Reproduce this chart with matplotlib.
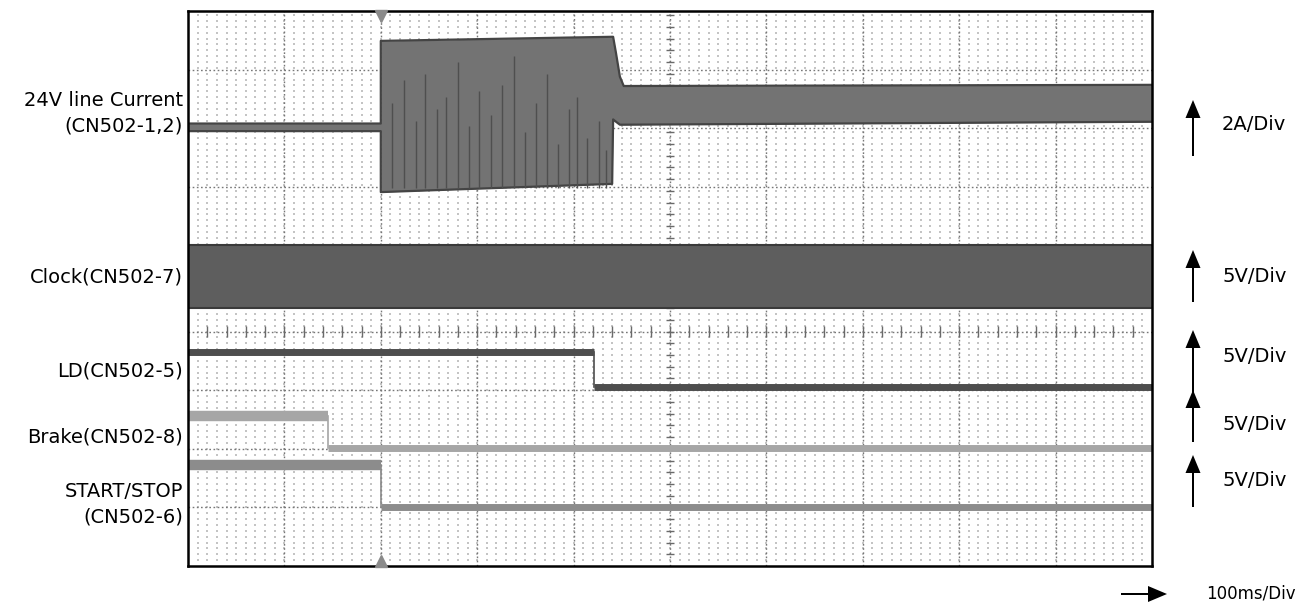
import matplotlib
matplotlib.use("Agg")
import matplotlib.pyplot as plt
import numpy as np

# ---------------- data (time in ms, levels in screen divisions from bottom) ----
time_range = [0, 1000]
screen_top = 9.47
trigger_ms = 200

# 24V line current envelope (min / max)
cur_t     = [0,    200,  200,  440,  441,  444,  448,  452,  1000]
cur_low   = [7.42, 7.42, 6.38, 6.52, 7.62, 7.58, 7.53, 7.53, 7.58]
cur_high  = [7.55, 7.55, 8.96, 9.03, 9.03, 8.75, 8.35, 8.19, 8.21]
# darker streaks inside the start-up burst (ms, top level in div)
spike_ms  = [212, 224, 236, 246, 258, 268, 280, 292, 302, 314, 326, 338,
             350, 361, 372, 384, 395, 404, 414, 426, 434]
spike_top = [7.9, 8.3, 7.6, 8.4, 7.8, 8.0, 8.6, 7.5, 8.1, 7.7, 8.2, 8.7,
             7.4, 7.9, 8.4, 7.2, 7.8, 8.0, 7.3, 7.6, 7.1]

# Clock band
clk_low, clk_high = 4.40, 5.48

# LD, Brake, START/STOP (high -> low steps)
ld_t     = [0, 421, 421, 1000]
ld_v     = [3.65, 3.65, 3.05, 3.05]
brake_t  = [0, 145, 145, 1000]
brake_v  = [2.56, 2.56, 2.01, 2.01]
start_t  = [0, 200, 200, 1000]
start_v  = [1.72, 1.72, 1.01, 1.01]

left_labels  = ["24V line Current\n(CN502-1,2)", "Clock(CN502-7)", "LD(CN502-5)",
                "Brake(CN502-8)", "START/STOP\n(CN502-6)"]
left_label_y = [113, 277, 371, 437, 504]       # pixel rows
right_labels = ["2A/Div", "5V/Div", "5V/Div", "5V/Div", "5V/Div"]
right_label_y = [125, 277, 357, 424, 481]
arrow_tip_y   = [100, 250, 330, 390, 455]
arrow_end_y   = [156, 302, 393, 442, 507]
time_label = "100ms/Div"

# ---------------- figure ----------------------------------------------------
W, H = 1300, 613
fig = plt.figure(figsize=(W / 100, H / 100), dpi=100)
fig.patch.set_facecolor("white")
ax = fig.add_axes([188 / W, 1 - 566 / H, (1152 - 188) / W, (566 - 11) / H])
ax.set_xlim(*time_range)
ax.set_ylim(0, screen_top)
ax.set_xticks([]); ax.set_yticks([])
for s in ax.spines.values():
    s.set_linewidth(1.8); s.set_color("black"); s.set_zorder(10)

# fine dot texture
gx, gy = np.meshgrid(np.arange(10, 1000, 10), np.arange(0.1, screen_top, 0.1))
ax.scatter(gx.ravel(), gy.ravel(), s=0.6, c="#c4c4c4", marker="s",
           linewidths=0, zorder=0)

# graticule
grid_kw = dict(color="#777777", lw=1.0, ls=(0, (1.2, 1.8)), zorder=1)
for xv in range(100, 1000, 100):
    ax.axvline(xv, **grid_kw)
for yv in [1, 2, 3, 4]:
    ax.axhline(yv, **grid_kw)
for k in [1, 2, 3, 4]:
    ax.axhline(screen_top - k, **grid_kw)
# centre tick marks
ticks_y = np.arange(0.2, screen_top, 0.2)
ax.hlines(ticks_y, 496, 504, color="#6a6a6a", lw=1.0, zorder=1)
ticks_x = np.arange(20, 1000, 20)
ax.vlines(ticks_x, 3.91, 4.09, color="#6a6a6a", lw=1.0, zorder=1)

# current channel
ax.fill_between(cur_t, cur_low, cur_high, color="#737373", lw=0, zorder=3)
ax.plot(cur_t, cur_high, color="#444444", lw=1.6, zorder=4)
ax.plot(cur_t, cur_low, color="#444444", lw=1.6, zorder=4)
ax.vlines(spike_ms, [6.45] * len(spike_ms), spike_top, color="#4f4f4f",
          lw=1.0, zorder=4)

# clock
ax.fill_between(time_range, [clk_low] * 2, [clk_high] * 2, color="#5e5e5e",
                lw=0, zorder=3)
ax.plot(time_range, [clk_high] * 2, color="#3a3a3a", lw=1.5, zorder=4)
ax.plot(time_range, [clk_low] * 2, color="#3a3a3a", lw=1.5, zorder=4)

# LD
ax.plot(ld_t[:2], ld_v[:2], color="#4e4e4e", lw=5, solid_capstyle="butt", zorder=4)
ax.plot(ld_t[2:], ld_v[2:], color="#4e4e4e", lw=5, solid_capstyle="butt", zorder=4)
ax.plot(ld_t[1:3], ld_v[1:3], color="#4e4e4e", lw=1.2, zorder=4)
# Brake
ax.plot(brake_t[:2], brake_v[:2], color="#a6a6a6", lw=7.5, solid_capstyle="butt", zorder=4)
ax.plot(brake_t[2:], brake_v[2:], color="#a6a6a6", lw=5, solid_capstyle="butt", zorder=4)
ax.plot(brake_t[1:3], brake_v[1:3], color="#a6a6a6", lw=1.2, zorder=4)
# START/STOP
ax.plot(start_t[:2], start_v[:2], color="#8c8c8c", lw=7.5, solid_capstyle="butt", zorder=4)
ax.plot(start_t[2:], start_v[2:], color="#8c8c8c", lw=5, solid_capstyle="butt", zorder=4)
ax.plot(start_t[1:3], start_v[1:3], color="#8c8c8c", lw=1.2, zorder=4)

# trigger markers
ax.plot([trigger_ms], [screen_top - 0.08], marker="v", ms=9, color="#8a8a8a",
        clip_on=False, zorder=11)
ax.plot([trigger_ms], [0.08], marker="^", ms=9, color="#8a8a8a",
        clip_on=False, zorder=11)

# ---------------- text ------------------------------------------------------
font = dict(family="DejaVu Sans", fontsize=14, color="black")
for txt, yp in zip(left_labels, left_label_y):
    fig.text(183 / W, 1 - yp / H, txt, ha="right", va="center",
             linespacing=1.45, **font)

for txt, yt, ytip, yend in zip(right_labels, right_label_y, arrow_tip_y, arrow_end_y):
    fig.text(1222 / W, 1 - yt / H, txt, ha="left", va="center", **font)
    fig.add_artist(matplotlib.patches.FancyArrow(
        1193 / W, 1 - yend / H, 0, (yend - ytip) / H, width=2.0 / W,
        head_width=15 / W, head_length=18 / H, length_includes_head=True,
        color="black", lw=0, transform=fig.transFigure))

fig.add_artist(matplotlib.patches.FancyArrow(
    1121 / W, 1 - 594 / H, 46 / W, 0, width=2.0 / H,
    head_width=16 / H, head_length=19 / W, length_includes_head=True,
    color="black", lw=0, transform=fig.transFigure))
fig.text(1296 / W, 1 - 594 / H, time_label, ha="right", va="center",
         family="DejaVu Sans", fontsize=12, color="black")

fig.savefig("out.png", dpi=100, facecolor="white")
